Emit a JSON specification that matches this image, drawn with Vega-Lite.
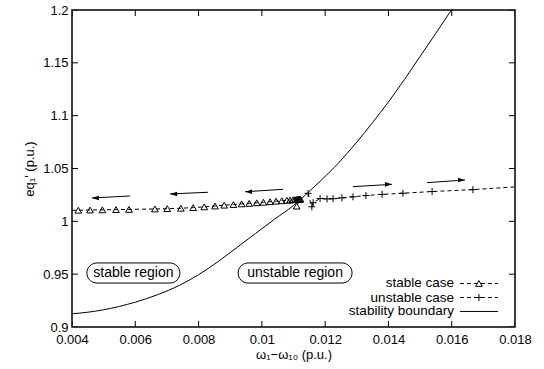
{
  "$schema": "https://vega.github.io/schema/vega-lite/v6.json",
  "width": 443,
  "height": 317,
  "autosize": "none",
  "padding": {"left": 72, "top": 10, "right": 29, "bottom": 42},
  "background": "white",
  "config": {
    "font": "Liberation Sans",
    "view": {"stroke": "black", "strokeWidth": 1.5},
    "axis": {
      "domain": false,
      "grid": false,
      "ticks": false,
      "labelFlush": false,
      "labelOverlap": false,
      "labelColor": "black",
      "labelFont": "Liberation Sans",
      "labelFontSize": 13,
      "titleColor": "black",
      "titleFontWeight": "normal",
      "titleFontSize": 13
    }
  },
  "datasets": {
    "xTicks": [{"w": 0.004}, {"w": 0.006}, {"w": 0.008}, {"w": 0.01}, {"w": 0.012}, {"w": 0.014}, {"w": 0.016}, {"w": 0.018}],
    "yTicks": [{"e": 0.9}, {"e": 0.95}, {"e": 1.0}, {"e": 1.05}, {"e": 1.1}, {"e": 1.15}, {"e": 1.2}],
    "boundary": [
      {"w": 0.0040, "e": 0.9125}, {"w": 0.0045, "e": 0.9140}, {"w": 0.0050, "e": 0.9163},
      {"w": 0.0055, "e": 0.9195}, {"w": 0.0060, "e": 0.9235}, {"w": 0.0067, "e": 0.9305},
      {"w": 0.0074, "e": 0.9395}, {"w": 0.0080, "e": 0.9495}, {"w": 0.0086, "e": 0.9615},
      {"w": 0.0092, "e": 0.9750}, {"w": 0.0098, "e": 0.9885}, {"w": 0.0104, "e": 1.0020},
      {"w": 0.0110, "e": 1.0150}, {"w": 0.0117, "e": 1.0340}, {"w": 0.0124, "e": 1.0545},
      {"w": 0.0130, "e": 1.0750}, {"w": 0.0135, "e": 1.0935}, {"w": 0.0140, "e": 1.1130},
      {"w": 0.0145, "e": 1.1340}, {"w": 0.0150, "e": 1.1560}, {"w": 0.0155, "e": 1.1780},
      {"w": 0.0160, "e": 1.2005}
    ],
    "stableLine": [
      {"w": 0.00400, "e": 1.0104}, {"w": 0.00420, "e": 1.0105}, {"w": 0.00457, "e": 1.0107},
      {"w": 0.00496, "e": 1.0109}, {"w": 0.00539, "e": 1.0111}, {"w": 0.00580, "e": 1.0113},
      {"w": 0.00662, "e": 1.0117}, {"w": 0.00701, "e": 1.0120}, {"w": 0.00744, "e": 1.0124},
      {"w": 0.00783, "e": 1.0130}, {"w": 0.00818, "e": 1.0137}, {"w": 0.00852, "e": 1.0145},
      {"w": 0.00881, "e": 1.0153}, {"w": 0.00910, "e": 1.0159}, {"w": 0.00936, "e": 1.0165},
      {"w": 0.00960, "e": 1.0170}, {"w": 0.00984, "e": 1.0176}, {"w": 0.01005, "e": 1.0181},
      {"w": 0.01026, "e": 1.0186}, {"w": 0.01045, "e": 1.0191}, {"w": 0.01063, "e": 1.0195},
      {"w": 0.01079, "e": 1.0199}, {"w": 0.01089, "e": 1.0202}, {"w": 0.01099, "e": 1.0204},
      {"w": 0.01105, "e": 1.0206}, {"w": 0.01110, "e": 1.0207}, {"w": 0.01113, "e": 1.0208},
      {"w": 0.01116, "e": 1.0208}, {"w": 0.01118, "e": 1.0209}, {"w": 0.01120, "e": 1.0210},
      {"w": 0.01122, "e": 1.0210}, {"w": 0.01110, "e": 1.0144}
    ],
    "stablePoints": [
      {"w": 0.00420, "e": 1.0105}, {"w": 0.00457, "e": 1.0107}, {"w": 0.00496, "e": 1.0109},
      {"w": 0.00539, "e": 1.0111}, {"w": 0.00580, "e": 1.0113}, {"w": 0.00662, "e": 1.0117},
      {"w": 0.00701, "e": 1.0120}, {"w": 0.00744, "e": 1.0124}, {"w": 0.00783, "e": 1.0130},
      {"w": 0.00818, "e": 1.0137}, {"w": 0.00852, "e": 1.0145}, {"w": 0.00881, "e": 1.0153},
      {"w": 0.00910, "e": 1.0159}, {"w": 0.00936, "e": 1.0165}, {"w": 0.00960, "e": 1.0170},
      {"w": 0.00984, "e": 1.0176}, {"w": 0.01005, "e": 1.0181}, {"w": 0.01026, "e": 1.0186},
      {"w": 0.01045, "e": 1.0191}, {"w": 0.01063, "e": 1.0195}, {"w": 0.01079, "e": 1.0199},
      {"w": 0.01089, "e": 1.0202}, {"w": 0.01099, "e": 1.0204}, {"w": 0.01105, "e": 1.0206},
      {"w": 0.01110, "e": 1.0207}, {"w": 0.01113, "e": 1.0208}, {"w": 0.01116, "e": 1.0208},
      {"w": 0.01118, "e": 1.0209}, {"w": 0.01120, "e": 1.0210}, {"w": 0.01122, "e": 1.0210},
      {"w": 0.01110, "e": 1.0144}
    ],
    "unstableLine": [
      {"w": 0.01146, "e": 1.0265}, {"w": 0.01158, "e": 1.0138}, {"w": 0.01162, "e": 1.0176},
      {"w": 0.01184, "e": 1.0216}, {"w": 0.01206, "e": 1.0212}, {"w": 0.01225, "e": 1.0214},
      {"w": 0.01253, "e": 1.0222}, {"w": 0.01288, "e": 1.0232}, {"w": 0.01329, "e": 1.0244},
      {"w": 0.01380, "e": 1.0255}, {"w": 0.01446, "e": 1.0266}, {"w": 0.01538, "e": 1.0282},
      {"w": 0.01667, "e": 1.0300}, {"w": 0.01800, "e": 1.0326}
    ],
    "unstablePoints": [
      {"w": 0.01146, "e": 1.0265}, {"w": 0.01158, "e": 1.0138}, {"w": 0.01162, "e": 1.0176},
      {"w": 0.01184, "e": 1.0216}, {"w": 0.01206, "e": 1.0212}, {"w": 0.01225, "e": 1.0214},
      {"w": 0.01253, "e": 1.0222}, {"w": 0.01288, "e": 1.0232}, {"w": 0.01329, "e": 1.0244},
      {"w": 0.01380, "e": 1.0255}, {"w": 0.01446, "e": 1.0266}, {"w": 0.01538, "e": 1.0282},
      {"w": 0.01667, "e": 1.0300}
    ],
    "arrows": [
      {"dir": "left", "w0": 0.00583, "e0": 1.0240, "w1": 0.00463, "e1": 1.0221},
      {"dir": "left", "w0": 0.00830, "e0": 1.0275, "w1": 0.00710, "e1": 1.0259},
      {"dir": "left", "w0": 0.01067, "e0": 1.0303, "w1": 0.00947, "e1": 1.0280},
      {"dir": "right", "w0": 0.01288, "e0": 1.0328, "w1": 0.01411, "e1": 1.0350},
      {"dir": "right", "w0": 0.01522, "e0": 1.0366, "w1": 0.01642, "e1": 1.0391}
    ],
    "regions": [
      {"label": "stable region", "w0": 0.00447, "w1": 0.00741, "e0": 0.9416, "e1": 0.9606},
      {"label": "unstable region", "w0": 0.00925, "w1": 0.01285, "e0": 0.9416, "e1": 0.9606}
    ],
    "legend": [
      {"label": "stable case", "series": "stable case", "e": 0.9412, "wt": 0.01607, "w0": 0.01626, "w1": 0.01746, "wm": 0.01686},
      {"label": "unstable case", "series": "unstable case", "e": 0.9279, "wt": 0.01607, "w0": 0.01626, "w1": 0.01746, "wm": 0.01686},
      {"label": "stability boundary", "series": "stability boundary", "e": 0.9147, "wt": 0.01607, "w0": 0.01626, "w1": 0.01746, "wm": 0.01686}
    ]
  },
  "layer": [
    {
      "data": {"name": "boundary"},
      "mark": {"type": "line", "color": "black", "strokeWidth": 1, "interpolate": "monotone", "clip": true},
      "encoding": {
        "x": {"field": "w", "type": "quantitative",
          "scale": {"domain": [0.004, 0.018], "nice": false, "zero": false},
          "axis": {"orient": "bottom", "values": [0.004, 0.006, 0.008, 0.01, 0.012, 0.014, 0.016, 0.018], "format": "~g", "labelPadding": 6, "title": "ω₁−ω₁₀ (p.u.)", "titlePadding": 2}},
        "y": {"field": "e", "type": "quantitative",
          "scale": {"domain": [0.9, 1.2], "nice": false, "zero": false},
          "axis": {"orient": "left", "values": [0.9, 0.95, 1, 1.05, 1.1, 1.15, 1.2], "format": "~g", "labelPadding": 4, "title": "eq₁' (p.u.)", "titlePadding": 6}}
      }
    },
    {
      "data": {"name": "xTicks"},
      "mark": {"type": "tick", "orient": "vertical", "color": "black", "thickness": 1, "size": 12, "clip": true, "opacity": 1},
      "encoding": {"x": {"field": "w", "type": "quantitative"}, "y": {"datum": 0.9, "type": "quantitative"}}
    },
    {
      "data": {"name": "xTicks"},
      "mark": {"type": "tick", "orient": "vertical", "color": "black", "thickness": 1, "size": 12, "clip": true, "opacity": 1},
      "encoding": {"x": {"field": "w", "type": "quantitative"}, "y": {"datum": 1.2, "type": "quantitative"}}
    },
    {
      "data": {"name": "yTicks"},
      "mark": {"type": "tick", "orient": "horizontal", "color": "black", "thickness": 1, "size": 12, "clip": true, "opacity": 1},
      "encoding": {"y": {"field": "e", "type": "quantitative"}, "x": {"datum": 0.004, "type": "quantitative"}}
    },
    {
      "data": {"name": "yTicks"},
      "mark": {"type": "tick", "orient": "horizontal", "color": "black", "thickness": 1, "size": 12, "clip": true, "opacity": 1},
      "encoding": {"y": {"field": "e", "type": "quantitative"}, "x": {"datum": 0.018, "type": "quantitative"}}
    },
    {
      "data": {"name": "stableLine"},
      "mark": {"type": "line", "color": "black", "strokeWidth": 1, "strokeDash": [4, 3], "clip": true},
      "encoding": {
        "x": {"field": "w", "type": "quantitative"},
        "y": {"field": "e", "type": "quantitative"},
        "order": {"value": null}
      }
    },
    {
      "data": {"name": "stablePoints"},
      "mark": {"type": "point", "shape": "triangle-up", "filled": false, "stroke": "black", "strokeWidth": 1, "size": 45, "opacity": 1},
      "encoding": {
        "x": {"field": "w", "type": "quantitative"},
        "y": {"field": "e", "type": "quantitative"}
      }
    },
    {
      "data": {"name": "unstableLine"},
      "mark": {"type": "line", "color": "black", "strokeWidth": 1, "strokeDash": [4, 3], "clip": true},
      "encoding": {
        "x": {"field": "w", "type": "quantitative"},
        "y": {"field": "e", "type": "quantitative"},
        "order": {"value": null}
      }
    },
    {
      "data": {"name": "unstablePoints"},
      "mark": {"type": "point", "shape": "M-1,0L1,0M0,-1L0,1", "filled": false, "stroke": "black", "strokeWidth": 1, "size": 49, "opacity": 1},
      "encoding": {
        "x": {"field": "w", "type": "quantitative"},
        "y": {"field": "e", "type": "quantitative"}
      }
    },
    {
      "data": {"name": "arrows"},
      "mark": {"type": "rule", "color": "black", "strokeWidth": 1},
      "encoding": {
        "x": {"field": "w0", "type": "quantitative"},
        "x2": {"field": "w1"},
        "y": {"field": "e0", "type": "quantitative"},
        "y2": {"field": "e1"}
      }
    },
    {
      "data": {"name": "arrows"},
      "transform": [{"filter": "datum.dir === 'left'"}],
      "mark": {"type": "point", "shape": "M0,0L1,-0.33L1,0.33Z", "filled": true, "color": "black", "size": 196, "opacity": 1},
      "encoding": {
        "x": {"field": "w1", "type": "quantitative"},
        "y": {"field": "e1", "type": "quantitative"}
      }
    },
    {
      "data": {"name": "arrows"},
      "transform": [{"filter": "datum.dir === 'right'"}],
      "mark": {"type": "point", "shape": "M0,0L-1,-0.33L-1,0.33Z", "filled": true, "color": "black", "size": 196, "opacity": 1},
      "encoding": {
        "x": {"field": "w1", "type": "quantitative"},
        "y": {"field": "e1", "type": "quantitative"}
      }
    },
    {
      "data": {"name": "regions"},
      "mark": {"type": "rect", "fill": "white", "stroke": "black", "strokeWidth": 1, "cornerRadius": 10},
      "encoding": {
        "x": {"field": "w0", "type": "quantitative"},
        "x2": {"field": "w1"},
        "y": {"field": "e0", "type": "quantitative"},
        "y2": {"field": "e1"}
      }
    },
    {
      "data": {"name": "regions"},
      "transform": [{"calculate": "(datum.w0 + datum.w1) / 2", "as": "wc"}, {"calculate": "(datum.e0 + datum.e1) / 2", "as": "ec"}],
      "mark": {"type": "text", "fontSize": 14, "font": "Liberation Sans", "color": "black", "align": "center", "baseline": "middle"},
      "encoding": {
        "x": {"field": "wc", "type": "quantitative"},
        "y": {"field": "ec", "type": "quantitative"},
        "text": {"field": "label"}
      }
    },
    {
      "data": {"name": "legend"},
      "mark": {"type": "text", "fontSize": 13.5, "font": "Liberation Sans", "color": "black", "align": "right", "baseline": "middle"},
      "encoding": {
        "x": {"field": "wt", "type": "quantitative"},
        "y": {"field": "e", "type": "quantitative"},
        "text": {"field": "label"}
      }
    },
    {
      "data": {"name": "legend"},
      "transform": [{"filter": "datum.series !== 'stability boundary'"}],
      "mark": {"type": "rule", "color": "black", "strokeWidth": 1, "strokeDash": [4, 3]},
      "encoding": {
        "x": {"field": "w0", "type": "quantitative"},
        "x2": {"field": "w1"},
        "y": {"field": "e", "type": "quantitative"}
      }
    },
    {
      "data": {"name": "legend"},
      "transform": [{"filter": "datum.series === 'stability boundary'"}],
      "mark": {"type": "rule", "color": "black", "strokeWidth": 1},
      "encoding": {
        "x": {"field": "w0", "type": "quantitative"},
        "x2": {"field": "w1"},
        "y": {"field": "e", "type": "quantitative"}
      }
    },
    {
      "data": {"name": "legend"},
      "transform": [{"filter": "datum.series === 'stable case'"}],
      "mark": {"type": "point", "shape": "triangle-up", "filled": false, "fill": "white", "stroke": "black", "strokeWidth": 1, "size": 45, "opacity": 1},
      "encoding": {
        "x": {"field": "wm", "type": "quantitative"},
        "y": {"field": "e", "type": "quantitative"}
      }
    },
    {
      "data": {"name": "legend"},
      "transform": [{"filter": "datum.series === 'unstable case'"}],
      "mark": {"type": "point", "shape": "M-1,0L1,0M0,-1L0,1", "filled": false, "stroke": "black", "strokeWidth": 1, "size": 49, "opacity": 1},
      "encoding": {
        "x": {"field": "wm", "type": "quantitative"},
        "y": {"field": "e", "type": "quantitative"}
      }
    }
  ]
}
